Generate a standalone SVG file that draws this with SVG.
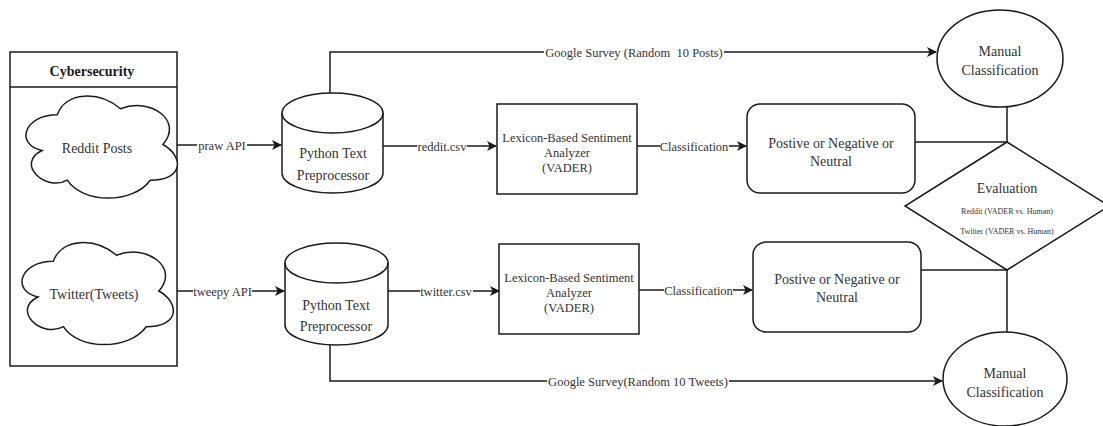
<svg xmlns="http://www.w3.org/2000/svg" width="1103" height="426" viewBox="0 0 1103 426">
<defs>
<style>
.s{fill:#fff;stroke:#1a1a1a;stroke-width:1.5}
.ln{fill:none;stroke:#1a1a1a;stroke-width:1.5}
.t{font-family:"Liberation Serif","Times New Roman",serif;font-size:14px;fill:#333;text-anchor:middle}
.e{font-family:"Liberation Serif","Times New Roman",serif;font-size:12.5px;fill:#333;text-anchor:middle;white-space:pre}
.sm{font-family:"Liberation Serif","Times New Roman",serif;font-size:8px;fill:#333;text-anchor:middle}
.b{font-weight:bold;fill:#1a1a1a}
.bg{fill:#fff}
</style>
<marker id="ar" markerWidth="10" markerHeight="10" refX="9" refY="5" orient="auto" markerUnits="userSpaceOnUse">
<path d="M0,0 L10,5 L0,10 L2.5,5 Z" fill="#1a1a1a"/>
</marker>
<path id="cloud" d="M57.3,114.8 C23.5,114.8 15,144.5 42,150.5 C15,163.5 45.4,192.1 67.4,180.2 C82.6,204 133.3,204 150.2,180.2 C184,180.2 184,156.4 162.9,144.5 C184,120.7 150.2,96.9 120.6,108.8 C99.5,91 65.7,91 57.3,114.8 Z"/>
</defs>
<rect width="1103" height="426" fill="#fff"/>

<g id="connectors">
<path class="ln" d="M163,145 L281,145" marker-end="url(#ar)"/>
<path class="ln" d="M158,291 L284,291" marker-end="url(#ar)"/>
<path class="ln" d="M383,146 L496,146" marker-end="url(#ar)"/>
<path class="ln" d="M388,291 L499,291" marker-end="url(#ar)"/>
<path class="ln" d="M637,146 L746,146" marker-end="url(#ar)"/>
<path class="ln" d="M639,290 L752,290" marker-end="url(#ar)"/>
<path class="ln" d="M330,93 L330,52 L936,52" marker-end="url(#ar)"/>
<path class="ln" d="M330,345 L330,381 L942,381" marker-end="url(#ar)"/>
<path class="ln" d="M915,142 L1007,142"/>
<path class="ln" d="M1007,107 L1007,142"/>
<path class="ln" d="M921,270 L1007,270"/>
<path class="ln" d="M1007,270 L1007,332"/>
<rect class="bg" x="197" y="137" width="50" height="16"/>
<text class="e" x="222" y="149.5">praw API</text>
<rect class="bg" x="193" y="283" width="59" height="16"/>
<text class="e" x="222.5" y="295.5">tweepy API</text>
<rect class="bg" x="417" y="138" width="50" height="16"/>
<text class="e" x="442" y="150.5">reddit.csv</text>
<rect class="bg" x="420" y="283" width="53" height="16"/>
<text class="e" x="446" y="295.5">twitter.csv</text>
<rect class="bg" x="660" y="138" width="69" height="16"/>
<text class="e" x="694" y="150.5">Classification</text>
<rect class="bg" x="664" y="282" width="69" height="16"/>
<text class="e" x="698.5" y="294.5">Classification</text>
<rect class="bg" x="544" y="44" width="180" height="16"/>
<text class="e" x="634" y="56.5">Google Survey (Random  10 Posts)</text>
<rect class="bg" x="547" y="373" width="182" height="16"/>
<text class="e" x="638" y="385.5">Google Survey(Random 10 Tweets)</text>
</g>

<g id="cybersecurity">
<rect class="s" x="10" y="52" width="167" height="314" fill="none"/>
<line class="ln" x1="10" y1="87" x2="177" y2="87"/>
<text class="t b" x="92" y="76">Cybersecurity</text>
</g>

<g id="reddit-posts">
<use href="#cloud" class="s"/>
<text class="t" x="97" y="153">Reddit Posts</text>
</g>

<g id="twitter-tweets">
<use href="#cloud" class="s" transform="translate(-4,146.5)"/>
<text class="t" x="94" y="299">Twitter(Tweets)</text>
</g>

<g id="preprocessor-reddit">
<path class="s" d="M282,113 A50.5,20 0 0 1 383,113 L383,173 A50.5,20 0 0 1 282,173 Z"/>
<path class="ln" d="M282,113 A50.5,20 0 0 0 383,113"/>
<text class="t" x="333" y="158">Python Text</text>
<text class="t" x="333" y="180">Preprocessor</text>
</g>

<g id="preprocessor-twitter">
<path class="s" d="M285,263 A51.5,20 0 0 1 388,263 L388,325 A51.5,20 0 0 1 285,325 Z"/>
<path class="ln" d="M285,263 A51.5,20 0 0 0 388,263"/>
<text class="t" x="336" y="310">Python Text</text>
<text class="t" x="336" y="331">Preprocessor</text>
</g>

<g id="vader-reddit">
<rect class="s" x="497" y="104" width="140" height="90"/>
<text class="t" x="567" y="141.5" style="font-size:12.5px">Lexicon-Based Sentiment</text>
<text class="t" x="567" y="156.5" style="font-size:12.5px">Analyzer</text>
<text class="t" x="567" y="171.5" style="font-size:12.5px">(VADER)</text>
</g>

<g id="vader-twitter">
<rect class="s" x="499" y="244" width="140" height="90"/>
<text class="t" x="569" y="281.5" style="font-size:12.5px">Lexicon-Based Sentiment</text>
<text class="t" x="569" y="296.5" style="font-size:12.5px">Analyzer</text>
<text class="t" x="569" y="311.5" style="font-size:12.5px">(VADER)</text>
</g>

<g id="result-reddit">
<rect class="s" x="747" y="104" width="168" height="89" rx="13"/>
<text class="t" x="831" y="148">Postive or Negative or</text>
<text class="t" x="831" y="166">Neutral</text>
</g>

<g id="result-twitter">
<rect class="s" x="753" y="242" width="168" height="90" rx="13"/>
<text class="t" x="837" y="284">Postive or Negative or</text>
<text class="t" x="837" y="302">Neutral</text>
</g>

<g id="manual-reddit">
<ellipse class="s" cx="1000" cy="58.5" rx="63" ry="48.5"/>
<text class="t" x="1000" y="56">Manual</text>
<text class="t" x="1000" y="75">Classification</text>
</g>

<g id="manual-twitter">
<ellipse class="s" cx="1005" cy="379" rx="62" ry="47"/>
<text class="t" x="1005" y="378">Manual</text>
<text class="t" x="1005" y="397">Classification</text>
</g>

<g id="evaluation">
<path class="s" d="M1007,142 L1109,206 L1007,270 L905,206 Z"/>
<text class="t" x="1007" y="193">Evaluation</text>
<text class="sm" x="1007" y="214">Reddit (VADER vs. Human)</text>
<text class="sm" x="1007" y="234">Twitter (VADER vs. Human)</text>
</g>
</svg>
